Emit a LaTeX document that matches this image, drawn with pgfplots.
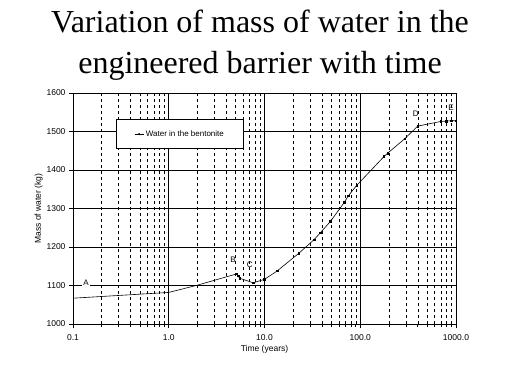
\documentclass[border=0pt]{standalone}
\usepackage{fontspec}
\setmainfont{Liberation Sans}
\newfontfamily\titlefont{Liberation Serif}
\usepackage{pgfplots}
\pgfplotsset{compat=1.18}
\begin{document}
\begin{tikzpicture}
\path[use as bounding box] (-73pt,-65pt) rectangle (446pt,324pt);
\begin{axis}[
  scale only axis,
  width=383pt, height=231pt,
  xmode=log,
  xmin=0.1, xmax=1000,
  ymin=1000, ymax=1600,
  ytick={1000,1100,...,1600},
  xtick={0.1,1,10,100,1000},
  xticklabels={0.1,1.0,10.0,100.0,1000.0},
  /pgf/number format/assume math mode=true,
  yticklabel style={/pgf/number format/1000 sep={}},
  tick label style={font=\fontsize{8.5}{10}\selectfont},
  xticklabel style={yshift=-3pt},
  label style={font=\fontsize{8.5}{10}\selectfont},
  xlabel={Time (years)},
  ylabel={Mass of water (kg)},
  xlabel style={yshift=2pt},
  ylabel style={yshift=-3pt},
  axis line style={line width=0.9pt},
  tick style={black, line width=0.8pt},
  major tick length=4pt,
  minor tick length=3pt,
  tick align=outside,
  xtick pos=bottom, ytick pos=left,
  xmajorgrids, ymajorgrids, xminorgrids,
  major grid style={black, line width=0.8pt},
  minor grid style={black, line width=0.7pt, dash pattern=on 3.5pt off 2.5pt},
  legend style={at={(0.112,0.887)}, anchor=north west, draw=black, line width=0.8pt,
    font=\fontsize{8}{9}\selectfont, inner xsep=18pt, inner ysep=9pt},
  legend image code/.code={\draw[#1, line width=0.6pt] (0pt,0pt) -- (9pt,0pt); \fill (4.5pt,0pt) circle (0.7pt);},
]
\addplot[black, line width=0.6pt, mark=square*, mark size=0.8pt, mark indices={4,5,...,24}] coordinates {
(0.1,1067) (1,1082) (2,1101) (5.1,1130) (5.3,1125) (5.5,1119) (7.6,1107) (10,1116)
(13.6,1138) (22.9,1184) (32.9,1219) (38.3,1237) (48.7,1266) (68.2,1316) (75.1,1333)
(91.8,1360) (177,1435) (194,1444) (291,1481) (398,1514) (692,1526) (787,1527)
(888,1528) (1000,1528)
};
\addlegendentry{Water in the bentonite}
\node[font=\fontsize{8}{9}\selectfont, fill=white, inner sep=1pt] at (axis cs:0.137,1106) {A};
\node[font=\fontsize{8}{9}\selectfont] at (axis cs:4.7,1166) {B};
\node[font=\fontsize{8}{9}\selectfont] at (axis cs:7.0,1155) {C};
\node[font=\fontsize{8}{9}\selectfont] at (axis cs:380,1547) {D};
\node[font=\fontsize{8}{9}\selectfont] at (axis cs:890,1562) {E};
\end{axis}
\node[font=\titlefont\fontsize{32}{40}\selectfont, anchor=base] at (187pt,291pt)
  {Variation of mass of water in the};
\node[font=\titlefont\fontsize{32}{40}\selectfont, anchor=base] at (187pt,251pt)
  {engineered barrier with time};
\end{tikzpicture}
\end{document}
